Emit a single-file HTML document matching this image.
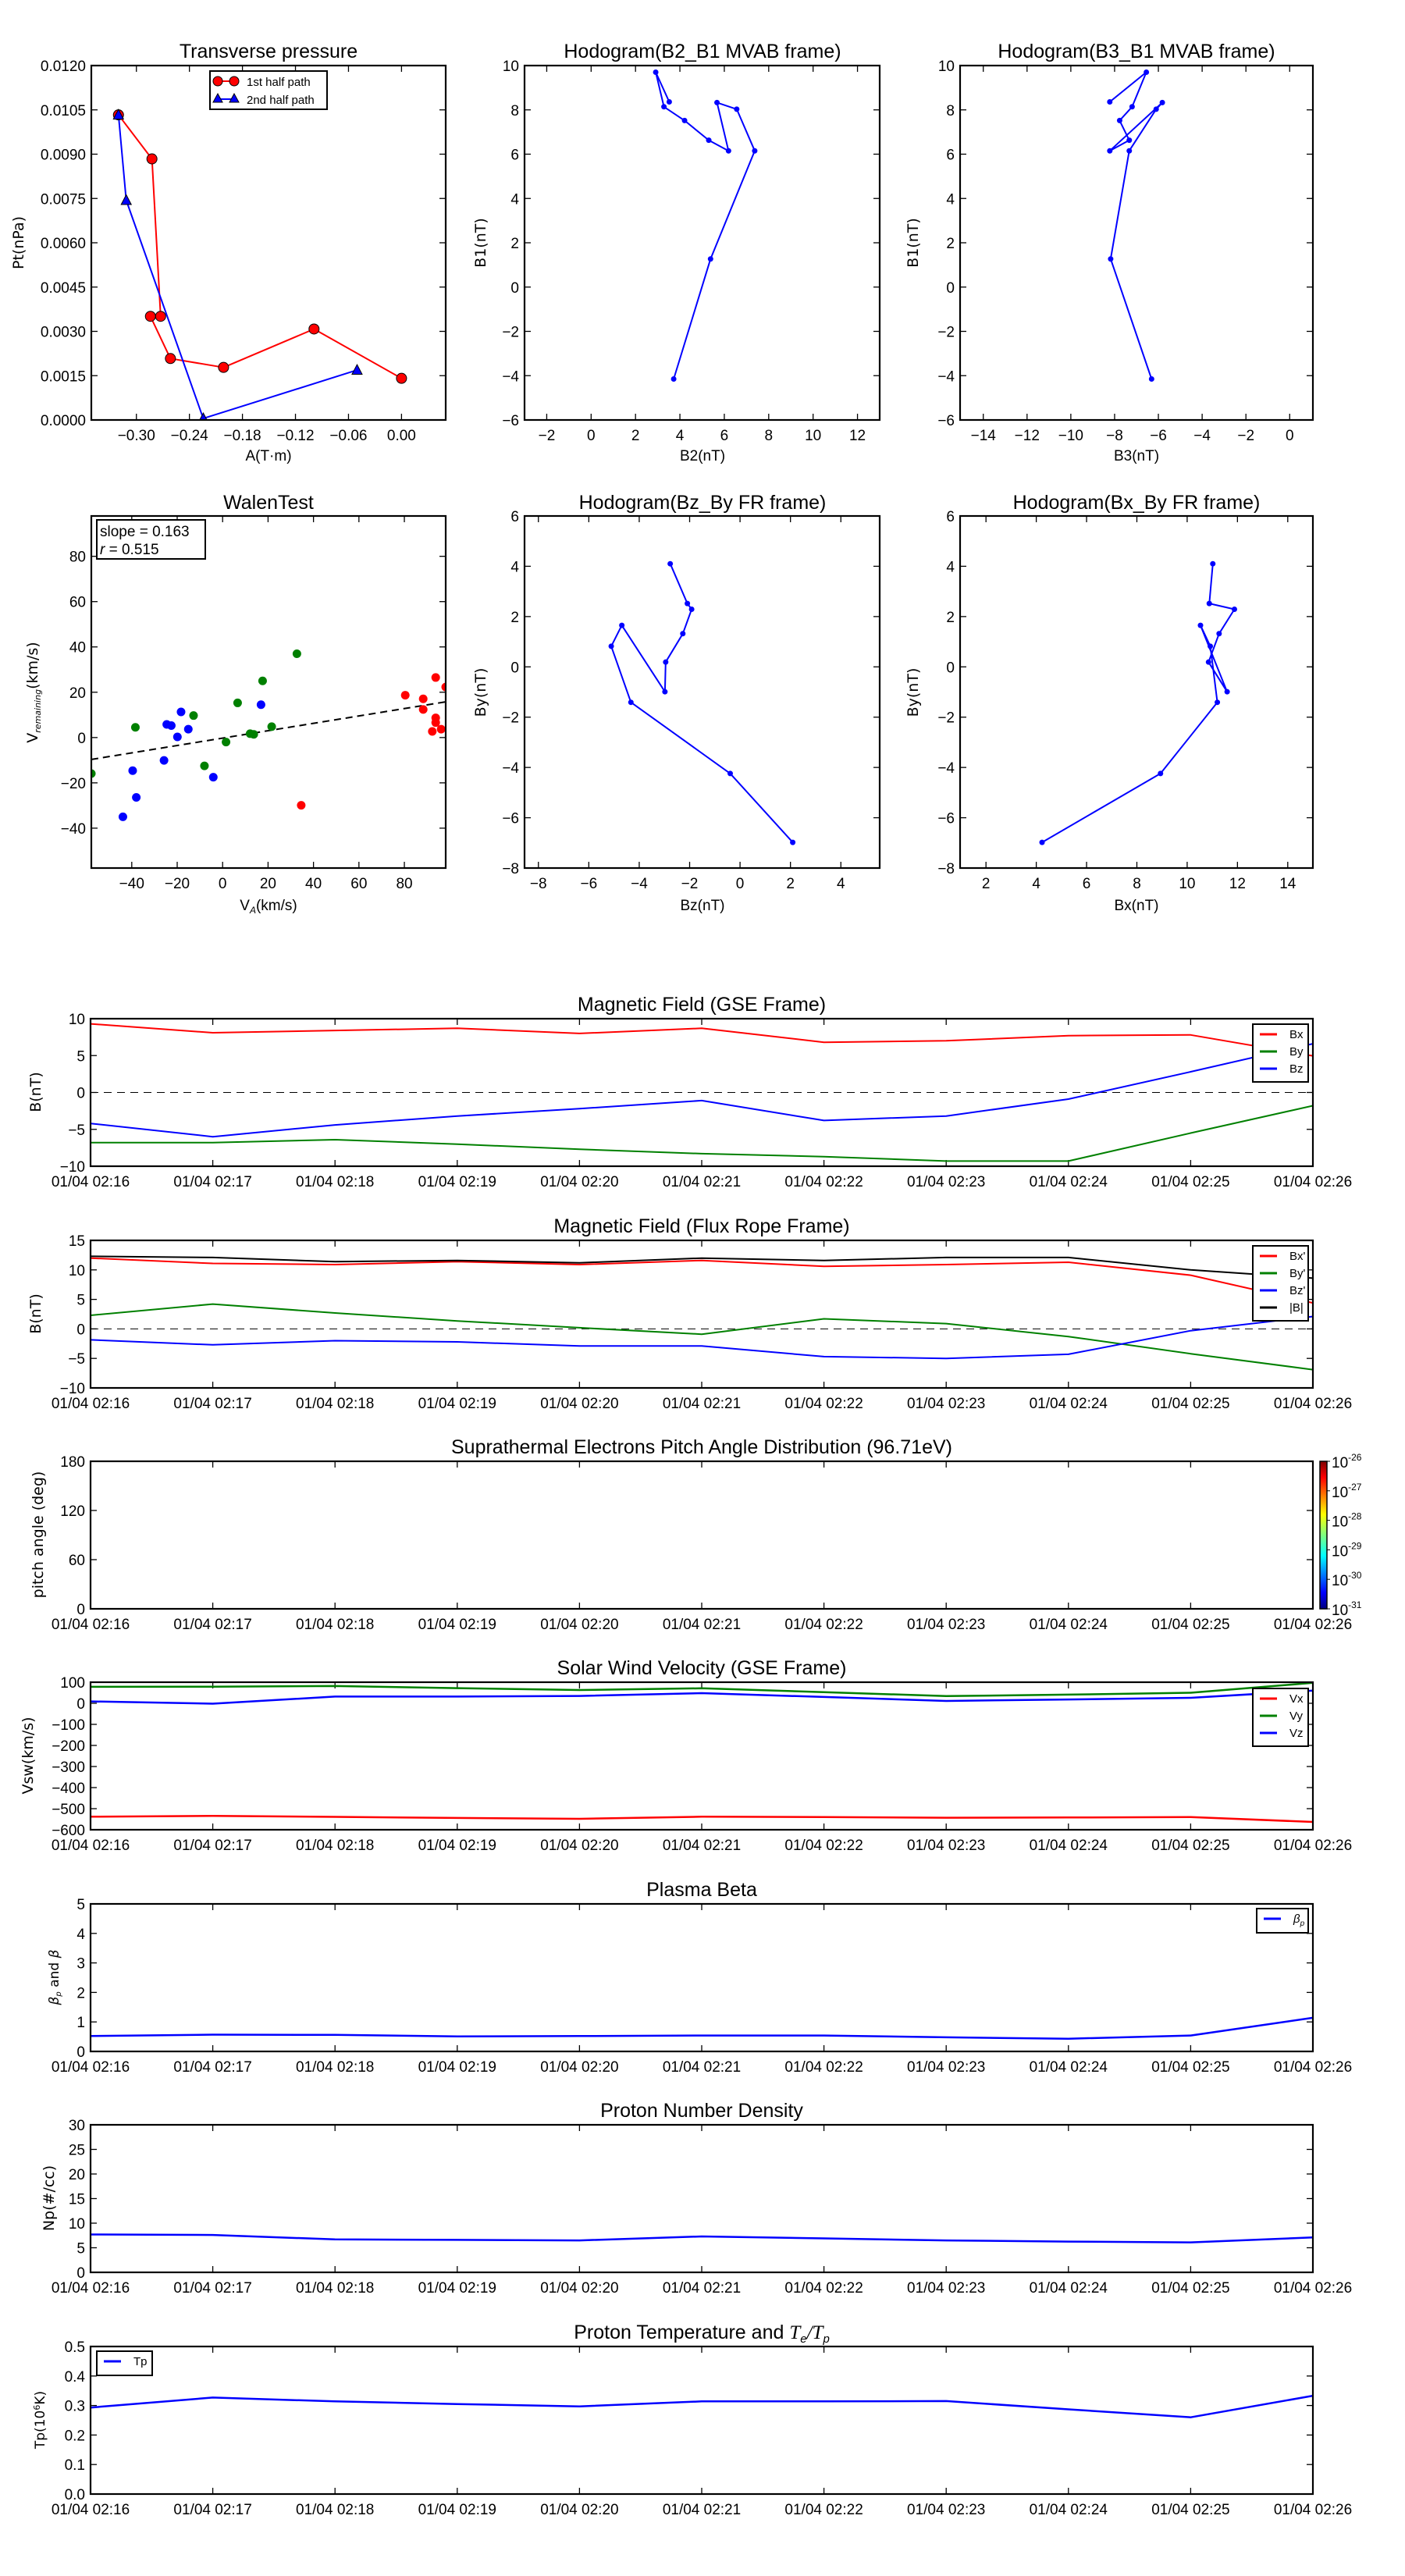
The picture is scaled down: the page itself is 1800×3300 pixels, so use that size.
<!DOCTYPE html>
<html><head><meta charset="utf-8"><title>Flux rope analysis</title>
<style>
html,body{margin:0;padding:0;background:#fff;}
svg{display:block;font-family:"Liberation Sans","DejaVu Sans",sans-serif;}
</style></head>
<body>
<svg id="chart" width="1800" height="3300" viewBox="0 0 1800 3300" xmlns="http://www.w3.org/2000/svg">
<defs>
<linearGradient id="jet" x1="0" y1="1" x2="0" y2="0">
<stop offset="0" stop-color="#00007f"/><stop offset="0.11" stop-color="#0000ff"/><stop offset="0.36" stop-color="#00ffff"/><stop offset="0.5" stop-color="#7fff7f"/><stop offset="0.64" stop-color="#ffff00"/><stop offset="0.89" stop-color="#ff0000"/><stop offset="1" stop-color="#7f0000"/>
</linearGradient>
</defs>
</svg>
<script>
// ---------- data ----------
const ptRedA = [-0.3203,-0.2824,-0.2726,-0.2841,-0.2615,-0.2014,-0.0990,0.0];
const ptRedP = [0.01033,0.00884,0.00351,0.00351,0.00208,0.00178,0.00308,0.00141];
const ptBlueA = [-0.3203,-0.3115,-0.2243,-0.0503];
const ptBlueP = [0.01033,0.00744,0.00005,0.00169];
const ptXTicks = [-0.30,-0.24,-0.18,-0.12,-0.06,0.00];
const ptYTicks = [0,0.0015,0.003,0.0045,0.006,0.0075,0.009,0.0105,0.012];

const mvB1 = [-4.15,1.27,6.15,8.03,8.33,6.15,6.63,7.52,8.14,9.70,8.36];
const mvB2 = [3.72,5.38,7.37,6.56,5.67,6.19,5.30,4.21,3.28,2.91,3.52];
const mvB3 = [-6.31,-8.18,-7.33,-6.10,-5.82,-8.22,-7.33,-7.77,-7.20,-6.55,-8.22];

const frBy = [-6.98,-4.24,-1.41,0.82,1.65,-0.99,0.19,1.32,2.29,2.52,4.10];
const frBz = [2.09,-0.39,-4.33,-5.11,-4.69,-2.98,-2.95,-2.27,-1.92,-2.09,-2.77];
const frBx = [4.23,8.94,11.20,10.92,10.53,11.59,10.85,11.27,11.88,10.88,11.02];

const walenRedX = [80.4,88.3,88.3,93.8,93.8,93.8,92.3,96.2,98.2,34.6];
const walenRedY = [18.7,17.1,12.4,26.5,8.7,6.6,2.7,3.7,22.3,-29.9];
const walenGreenX = [32.7,17.6,6.6,-12.8,-38.4,21.6,12.1,13.7,1.5,-8.0,-57.8];
const walenGreenY = [37.0,25.0,15.3,9.7,4.5,4.8,1.7,1.4,-2.0,-12.5,-15.9];
const walenBlueX = [-18.3,-24.6,-22.6,-15.1,-19.9,-25.8,-39.6,-38.0,-43.9,-4.1,16.9];
const walenBlueY = [11.3,5.8,5.3,3.7,0.3,-10.1,-14.6,-26.4,-35.0,-17.5,14.5];
const walenSlope = 0.163;
const walenIntercept = -0.25;

const timeLabels = ["01/04 02:16","01/04 02:17","01/04 02:18","01/04 02:19","01/04 02:20","01/04 02:21","01/04 02:22","01/04 02:23","01/04 02:24","01/04 02:25","01/04 02:26"];
const gseBx = [9.3,8.1,8.4,8.7,8.0,8.7,6.8,7.0,7.7,7.8,4.95];
const gseBy = [-6.8,-6.8,-6.4,-7.0,-7.7,-8.3,-8.7,-9.3,-9.3,-5.5,-1.8];
const gseBz = [-4.2,-6.0,-4.4,-3.2,-2.2,-1.1,-3.8,-3.2,-0.9,2.8,6.6];
const fluxBx = [12.0,11.1,10.9,11.4,10.9,11.6,10.6,10.9,11.3,9.1,4.4];
const fluxBy = [2.3,4.2,2.7,1.35,0.2,-0.9,1.7,0.9,-1.3,-4.2,-6.9];
const fluxBz = [-1.85,-2.7,-2.0,-2.2,-2.9,-2.9,-4.7,-5.0,-4.3,-0.3,2.1];
const fluxBt = [12.3,12.1,11.4,11.6,11.2,12.0,11.6,12.1,12.1,10.0,8.6];
const swVx = [-538,-534,-539,-544,-548,-538,-540,-543,-542,-540,-563];
const swVy = [78,79,82,72,63,71,53,34,41,50,97];
const swVz = [9,-2,32,32,35,48,30,11,18,26,60];
const betaP = [0.52,0.57,0.56,0.51,0.52,0.54,0.54,0.48,0.43,0.54,1.14];
const densNp = [7.7,7.6,6.7,6.6,6.5,7.3,6.9,6.5,6.25,6.1,7.1];
const tempTp = [0.293,0.327,0.314,0.305,0.297,0.314,0.314,0.315,0.287,0.26,0.333];
const cbarExp = ["-26","-27","-28","-29","-30","-31"];

// ---------- helpers ----------
const NS = "http://www.w3.org/2000/svg";
const svg = document.getElementById('chart');
function mk(tag, attrs, name, parent){
  const e = document.createElementNS(NS, tag);
  for (const k in attrs) e.setAttribute(k, attrs[k]);
  
  
  (parent||svg).appendChild(e);
  return e;
}
function txt(x, y, s, size, anchor, name, parent, extra){
  const a = {x:x, y:y, 'font-size':size, 'text-anchor':anchor||'middle', fill:'#000'};
  if (extra) for (const k in extra) a[k] = extra[k];
  const t = mk('text', a, name, parent);
  t.textContent = s;
  return t;
}
function fmtMinus(s){ return String(s).replace('-', '\u2212'); }
function scale(d0,d1,r0,r1){ return v => r0 + (v-d0)*(r1-r0)/(d1-d0); }

function axes(name, x0, x1, y0, y1, xd, yd, xticks, xlabels, yticks, ylabels){
  const g = mk('g', {}, name);
  const sx = scale(xd[0], xd[1], x0, x1);
  const sy = scale(yd[0], yd[1], y1, y0);
  const tg = mk('g', {}, 'ticks', g);
  xticks.forEach((v,i)=>{
    const X = sx(v);
    mk('line',{x1:X,y1:y1,x2:X,y2:y1-8,stroke:'#000','stroke-width':1.3},'x-tick',tg);
    mk('line',{x1:X,y1:y0,x2:X,y2:y0+8,stroke:'#000','stroke-width':1.3},'x-tick-top',tg);
    txt(X, y1+26, xlabels[i], 19, 'middle', 'x-tick-label', tg);
  });
  yticks.forEach((v,i)=>{
    const Y = sy(v);
    mk('line',{x1:x0,y1:Y,x2:x0+8,y2:Y,stroke:'#000','stroke-width':1.3},'y-tick',tg);
    mk('line',{x1:x1,y1:Y,x2:x1-8,y2:Y,stroke:'#000','stroke-width':1.3},'y-tick-right',tg);
    txt(x0-7, Y+7, ylabels[i], 19, 'end', 'y-tick-label', tg);
  });
  const clipId = 'clip-' + name;
  const cp = mk('clipPath', {id:clipId}, 'clip', g);
  mk('rect', {x:x0, y:y0, width:x1-x0, height:y1-y0}, 'clip-rect', cp);
  const plot = mk('g', {'clip-path':'url(#'+clipId+')'}, 'plot-area', g);
  return {g, plot, sx, sy, x0, x1, y0, y1};
}
function frame(ax){
  mk('rect',{x:ax.x0,y:ax.y0,width:ax.x1-ax.x0,height:ax.y1-ax.y0,fill:'none',stroke:'#000','stroke-width':2.2},'axes-frame',ax.g);
}
function polyline(ax, xs, ys, color, width, name, dash){
  const pts = xs.map((x,i)=> ax.sx(x).toFixed(1)+','+ax.sy(ys[i]).toFixed(1)).join(' ');
  const a = {points:pts, fill:'none', stroke:color, 'stroke-width':width, 'stroke-linejoin':'round'};
  if (dash) a['stroke-dasharray'] = dash;
  return mk('polyline', a, name, ax.plot);
}
function dots(ax, xs, ys, color, r, name, stroke){
  xs.forEach((x,i)=>{
    mk('circle',{cx:ax.sx(x),cy:ax.sy(ys[i]),r:r,fill:color,stroke:stroke||'none','stroke-width':1}, name, ax.plot);
  });
}
function ylabel(x, y, s, name, size){
  return txt(x, y, s, size||19, 'middle', name, svg, {transform:'rotate(-90 '+x+' '+y+')', 'font-family':'"DejaVu Sans",sans-serif'});
}
function range(a,b,s){ const r=[]; for(let v=a; v<=b+1e-9; v+=s) r.push(+v.toFixed(6)); return r; }

// ---------- Row 1 ----------
const R1T = 84, R1B = 538, R2T = 661, R2B = 1112;
// Transverse pressure
{
  const ax = axes('transverse-pressure-chart', 117, 571, R1T, R1B, [-0.351,0.05], [0,0.012],
    ptXTicks, ptXTicks.map(v=>fmtMinus(v.toFixed(2))), ptYTicks, ptYTicks.map(v=>v.toFixed(4)));
  polyline(ax, ptRedA, ptRedP, '#ff0000', 2, 'first-half-path-line');
  polyline(ax, ptBlueA, ptBlueP, '#0000ff', 2, 'second-half-path-line');
  dots(ax, ptRedA, ptRedP, '#ff0000', 6.5, 'first-half-marker', '#000');
  ptBlueA.forEach((a,i)=>{
    const X = ax.sx(a), Y = ax.sy(ptBlueP[i]);
    mk('polygon',{points:(X)+','+(Y-7)+' '+(X-6.5)+','+(Y+5.5)+' '+(X+6.5)+','+(Y+5.5),fill:'#0000ff',stroke:'#000','stroke-width':1},'second-half-marker',ax.plot);
  });
  frame(ax);
  const lg = mk('g',{},'pt-legend');
  mk('rect',{x:269,y:91,width:150,height:49,fill:'#fff',stroke:'#000','stroke-width':2},'legend-box',lg);
  mk('line',{x1:279,y1:104,x2:300,y2:104,stroke:'#ff0000','stroke-width':2},'legend-line',lg);
  mk('circle',{cx:279,cy:104,r:6,fill:'#ff0000',stroke:'#000'},'legend-marker',lg);
  mk('circle',{cx:300,cy:104,r:6,fill:'#ff0000',stroke:'#000'},'legend-marker',lg);
  txt(316,110,'1st half path',15,'start','legend-entry',lg);
  mk('line',{x1:279,y1:127,x2:300,y2:127,stroke:'#0000ff','stroke-width':2},'legend-line',lg);
  mk('polygon',{points:'279,120 273,131 285,131',fill:'#0000ff',stroke:'#000'},'legend-marker',lg);
  mk('polygon',{points:'300,120 294,131 306,131',fill:'#0000ff',stroke:'#000'},'legend-marker',lg);
  txt(316,133,'2nd half path',15,'start','legend-entry',lg);
  txt(344, 74, 'Transverse pressure', 25, 'middle', 'chart-title');
  txt(344, 590, 'A(T\u00b7m)', 19, 'middle', 'x-axis-title');
  ylabel(30, 311, 'Pt(nPa)', 'y-axis-title');
}
// Hodogram B2_B1
{
  const xt = range(-2,12,2), yt = range(-6,10,2);
  const ax = axes('hodogram-b2-b1-chart', 672, 1127, R1T, R1B, [-3,13], [-6,10], xt, xt.map(fmtMinus), yt, yt.map(fmtMinus));
  polyline(ax, mvB2, mvB1, '#0000ff', 2, 'hodogram-line');
  dots(ax, mvB2, mvB1, '#0000ff', 3.5, 'hodogram-point');
  frame(ax);
  txt(900, 74, 'Hodogram(B2_B1 MVAB frame)', 25, 'middle', 'chart-title');
  txt(900, 590, 'B2(nT)', 19, 'middle', 'x-axis-title');
  ylabel(622, 311, 'B1(nT)', 'y-axis-title');
}
// Hodogram B3_B1
{
  const xt = range(-14,0,2), yt = range(-6,10,2);
  const ax = axes('hodogram-b3-b1-chart', 1230, 1682, R1T, R1B, [-15.06,1.06], [-6,10], xt, xt.map(fmtMinus), yt, yt.map(fmtMinus));
  polyline(ax, mvB3, mvB1, '#0000ff', 2, 'hodogram-line');
  dots(ax, mvB3, mvB1, '#0000ff', 3.5, 'hodogram-point');
  frame(ax);
  txt(1456, 74, 'Hodogram(B3_B1 MVAB frame)', 25, 'middle', 'chart-title');
  txt(1456, 590, 'B3(nT)', 19, 'middle', 'x-axis-title');
  ylabel(1176, 311, 'B1(nT)', 'y-axis-title');
}
// ---------- Row 2 ----------
// Walen test
{
  const xt = range(-40,80,20), yt = range(-40,80,20);
  const ax = axes('walen-test-chart', 117, 571, R2T, R2B, [-57.8,98.2], [-57.6,97.8], xt, xt.map(fmtMinus), yt, yt.map(fmtMinus));
  const lx = [-57.8, 98.2];
  const ly = lx.map(v=> walenSlope*v + walenIntercept);
  polyline(ax, lx, ly, '#000', 2, 'fit-line', '9,6');
  dots(ax, walenRedX, walenRedY, '#ff0000', 5.5, 'walen-point-red');
  dots(ax, walenGreenX, walenGreenY, '#008000', 5.5, 'walen-point-green');
  dots(ax, walenBlueX, walenBlueY, '#0000ff', 5.5, 'walen-point-blue');
  frame(ax);
  const lg = mk('g',{},'walen-legend');
  mk('rect',{x:124,y:666,width:139,height:50,fill:'#fff',stroke:'#000','stroke-width':2},'legend-box',lg);
  txt(128,687,'slope = 0.163',19,'start','slope-label',lg);
  const t = txt(128,710,'',19,'start','r-label',lg);
  const ti = document.createElementNS(NS,'tspan'); ti.setAttribute('font-style','italic'); ti.textContent='r'; t.appendChild(ti);
  t.appendChild(document.createTextNode(' = 0.515'));
  txt(344, 652, 'WalenTest', 25, 'middle', 'chart-title');
  const xl = txt(344, 1166, 'V', 19, 'middle', 'x-axis-title');
  const xs = document.createElementNS(NS,'tspan'); xs.setAttribute('font-size','12'); xs.setAttribute('font-style','italic'); xs.setAttribute('dy','4'); xs.textContent='A'; xl.appendChild(xs);
  const xr = document.createElementNS(NS,'tspan'); xr.setAttribute('dy','-4'); xr.textContent='(km/s)'; xl.appendChild(xr);
  const yl = ylabel(48, 887, 'V', 'y-axis-title');
  const ys = document.createElementNS(NS,'tspan'); ys.setAttribute('font-size','11'); ys.setAttribute('font-style','italic'); ys.setAttribute('dy','4'); ys.textContent='remaining'; yl.appendChild(ys);
  const yr = document.createElementNS(NS,'tspan'); yr.setAttribute('dy','-4'); yr.textContent='(km/s)'; yl.appendChild(yr);
}
// Hodogram Bz_By
{
  const xt = range(-8,4,2), yt = range(-8,6,2);
  const ax = axes('hodogram-bz-by-chart', 672, 1127, R2T, R2B, [-8.55,5.54], [-8,6], xt, xt.map(fmtMinus), yt, yt.map(fmtMinus));
  polyline(ax, frBz, frBy, '#0000ff', 2, 'hodogram-line');
  dots(ax, frBz, frBy, '#0000ff', 3.5, 'hodogram-point');
  frame(ax);
  txt(900, 652, 'Hodogram(Bz_By FR frame)', 25, 'middle', 'chart-title');
  txt(900, 1166, 'Bz(nT)', 19, 'middle', 'x-axis-title');
  ylabel(622, 887, 'By(nT)', 'y-axis-title');
}
// Hodogram Bx_By
{
  const xt = range(2,14,2), yt = range(-8,6,2);
  const ax = axes('hodogram-bx-by-chart', 1230, 1682, R2T, R2B, [0.97,15], [-8,6], xt, xt.map(fmtMinus), yt, yt.map(fmtMinus));
  polyline(ax, frBx, frBy, '#0000ff', 2, 'hodogram-line');
  dots(ax, frBx, frBy, '#0000ff', 3.5, 'hodogram-point');
  frame(ax);
  txt(1456, 652, 'Hodogram(Bx_By FR frame)', 25, 'middle', 'chart-title');
  txt(1456, 1166, 'Bx(nT)', 19, 'middle', 'x-axis-title');
  ylabel(1176, 887, 'By(nT)', 'y-axis-title');
}
// ---------- Time series ----------
const TX0 = 116, TX1 = 1682, TH = 189;
const tIdx = timeLabels.map((_,i)=>i);
function tsAxes(name, top, yd, yt, ylabs){
  return axes(name, TX0, TX1, top, top+TH, [0,10], yd, tIdx, timeLabels, yt, ylabs);
}
function legend(name, x, y, w, entries, colors, spacing){
  const lg = mk('g',{},name);
  const h = entries.length*spacing + 8;
  mk('rect',{x:x,y:y,width:w,height:h,fill:'#fff',stroke:'#000','stroke-width':2},'legend-box',lg);
  entries.forEach((e,i)=>{
    const cy = y + 13 + i*spacing;
    mk('line',{x1:x+9,y1:cy,x2:x+31,y2:cy,stroke:colors[i],'stroke-width':3},'legend-line',lg);
    const t = txt(x+47, cy+5, '', 15, 'start', 'legend-entry', lg);
    if (typeof e === 'string') t.textContent = e; else e(t);
  });
  return lg;
}
// GSE
{
  const yt = range(-10,10,5);
  const ax = tsAxes('magnetic-field-gse-chart', 1305, [-10,10], yt, yt.map(fmtMinus));
  polyline(ax, [0,10], [0,0], '#000', 1, 'zero-line', '10,7');
  polyline(ax, tIdx, gseBx, '#ff0000', 2, 'bx-line');
  polyline(ax, tIdx, gseBy, '#008000', 2, 'by-line');
  polyline(ax, tIdx, gseBz, '#0000ff', 2, 'bz-line');
  frame(ax);
  legend('gse-legend', 1605, 1312, 71, ['Bx','By','Bz'], ['#ff0000','#008000','#0000ff'], 22);
  txt(899, 1295, 'Magnetic Field (GSE Frame)', 25, 'middle', 'chart-title');
  ylabel(52, 1399, 'B(nT)', 'y-axis-title');
}
// Flux rope
{
  const yt = range(-10,15,5);
  const ax = tsAxes('magnetic-field-flux-rope-chart', 1589, [-10,15], yt, yt.map(fmtMinus));
  polyline(ax, [0,10], [0,0], '#000', 1, 'zero-line', '10,7');
  polyline(ax, tIdx, fluxBx, '#ff0000', 2, 'bx-prime-line');
  polyline(ax, tIdx, fluxBy, '#008000', 2, 'by-prime-line');
  polyline(ax, tIdx, fluxBz, '#0000ff', 2, 'bz-prime-line');
  polyline(ax, tIdx, fluxBt, '#000000', 2, 'b-total-line');
  frame(ax);
  legend('flux-rope-legend', 1605, 1596, 71, ["Bx'","By'","Bz'","|B|"], ['#ff0000','#008000','#0000ff','#000'], 22);
  txt(899, 1579, 'Magnetic Field (Flux Rope Frame)', 25, 'middle', 'chart-title');
  ylabel(52, 1683, 'B(nT)', 'y-axis-title');
}
// PAD
{
  const yt = [0,60,120,180];
  const ax = tsAxes('pitch-angle-chart', 1872, [0,180], yt, yt.map(String));
  frame(ax);
  txt(899, 1862, 'Suprathermal Electrons Pitch Angle Distribution (96.71eV)', 25, 'middle', 'chart-title');
  ylabel(55, 1966, 'pitch angle (deg)', 'y-axis-title');
  const cb = mk('g',{},'colorbar');
  mk('rect',{x:1691,y:1872,width:9,height:189,fill:'url(#jet)',stroke:'#000','stroke-width':1.5},'colorbar-gradient',cb);
  cbarExp.forEach((e,i)=>{
    const Y = 1872 + i*189/5;
    mk('line',{x1:1700,y1:Y,x2:1704,y2:Y,stroke:'#000','stroke-width':1},'colorbar-tick',cb);
    const t = txt(1706, Y+8, '10', 19, 'start', 'colorbar-label', cb);
    const s = document.createElementNS(NS,'tspan'); s.setAttribute('font-size','12'); s.setAttribute('dy','-9'); s.textContent = e; t.appendChild(s);
  });
}
// Solar wind
{
  const yt = range(-600,100,100);
  const ax = tsAxes('solar-wind-velocity-chart', 2155, [-600,100], yt, yt.map(fmtMinus));
  polyline(ax, tIdx, swVx, '#ff0000', 2.5, 'vx-line');
  polyline(ax, tIdx, swVy, '#008000', 2.5, 'vy-line');
  polyline(ax, tIdx, swVz, '#0000ff', 2.5, 'vz-line');
  frame(ax);
  legend('solar-wind-legend', 1605, 2163, 71, ['Vx','Vy','Vz'], ['#ff0000','#008000','#0000ff'], 22);
  txt(899, 2145, 'Solar Wind Velocity (GSE Frame)', 25, 'middle', 'chart-title');
  ylabel(42, 2249, 'Vsw(km/s)', 'y-axis-title');
}
// Beta
{
  const yt = range(0,5,1);
  const ax = tsAxes('plasma-beta-chart', 2439, [0,5], yt, yt.map(String));
  polyline(ax, tIdx, betaP, '#0000ff', 2.5, 'beta-p-line');
  frame(ax);
  legend('beta-legend', 1610, 2445, 66, [t=>{ t.setAttribute('font-style','italic'); t.textContent='\u03b2'; const s=document.createElementNS(NS,'tspan'); s.setAttribute('font-size','10'); s.setAttribute('dy','4'); s.textContent='p'; t.appendChild(s); }], ['#0000ff'], 23);
  txt(899, 2429, 'Plasma Beta', 25, 'middle', 'chart-title');
  const yl = ylabel(75, 2533, '', 'y-axis-title', 17);
  const b1 = document.createElementNS(NS,'tspan'); b1.setAttribute('font-style','italic'); b1.textContent='\u03b2'; yl.appendChild(b1);
  const b2 = document.createElementNS(NS,'tspan'); b2.setAttribute('font-size','10'); b2.setAttribute('font-style','italic'); b2.setAttribute('dy','3'); b2.textContent='p'; yl.appendChild(b2);
  const b3 = document.createElementNS(NS,'tspan'); b3.setAttribute('dy','-3'); b3.textContent=' and '; yl.appendChild(b3);
  const b4 = document.createElementNS(NS,'tspan'); b4.setAttribute('font-style','italic'); b4.textContent='\u03b2'; yl.appendChild(b4);
}
// Density
{
  const yt = range(0,30,5);
  const ax = tsAxes('proton-density-chart', 2722, [0,30], yt, yt.map(String));
  polyline(ax, tIdx, densNp, '#0000ff', 2.5, 'np-line');
  frame(ax);
  txt(899, 2712, 'Proton Number Density', 25, 'middle', 'chart-title');
  ylabel(69, 2816, 'Np(#/cc)', 'y-axis-title');
}
// Temperature
{
  const yt = range(0,0.5,0.1);
  const ax = tsAxes('proton-temperature-chart', 3006, [0,0.5], yt, yt.map(v=>v.toFixed(1)));
  polyline(ax, tIdx, tempTp, '#0000ff', 2.5, 'tp-line');
  frame(ax);
  legend('temperature-legend', 124, 3012, 71, ['Tp'], ['#0000ff'], 23);
  const t = txt(899, 2996, 'Proton Temperature and ', 25, 'middle', 'chart-title');
  const a = document.createElementNS(NS,'tspan'); a.setAttribute('font-style','italic'); a.setAttribute('font-family','"Liberation Serif",serif'); a.textContent='T'; t.appendChild(a);
  const b = document.createElementNS(NS,'tspan'); b.setAttribute('font-size','15'); b.setAttribute('font-style','italic'); b.setAttribute('dy','5'); b.textContent='e'; t.appendChild(b);
  const c = document.createElementNS(NS,'tspan'); c.setAttribute('dy','-5'); c.setAttribute('font-style','italic'); c.setAttribute('font-family','"Liberation Serif",serif'); c.textContent='/T'; t.appendChild(c);
  const d = document.createElementNS(NS,'tspan'); d.setAttribute('font-size','15'); d.setAttribute('font-style','italic'); d.setAttribute('dy','5'); d.textContent='p'; t.appendChild(d);
  const yl = ylabel(57, 3100, 'Tp(10', 'y-axis-title', 17);
  const s = document.createElementNS(NS,'tspan'); s.setAttribute('font-size','11'); s.setAttribute('dy','-6'); s.textContent='6'; yl.appendChild(s);
  const k = document.createElementNS(NS,'tspan'); k.setAttribute('dy','6'); k.textContent='K)'; yl.appendChild(k);
}
</script>
</body></html>
